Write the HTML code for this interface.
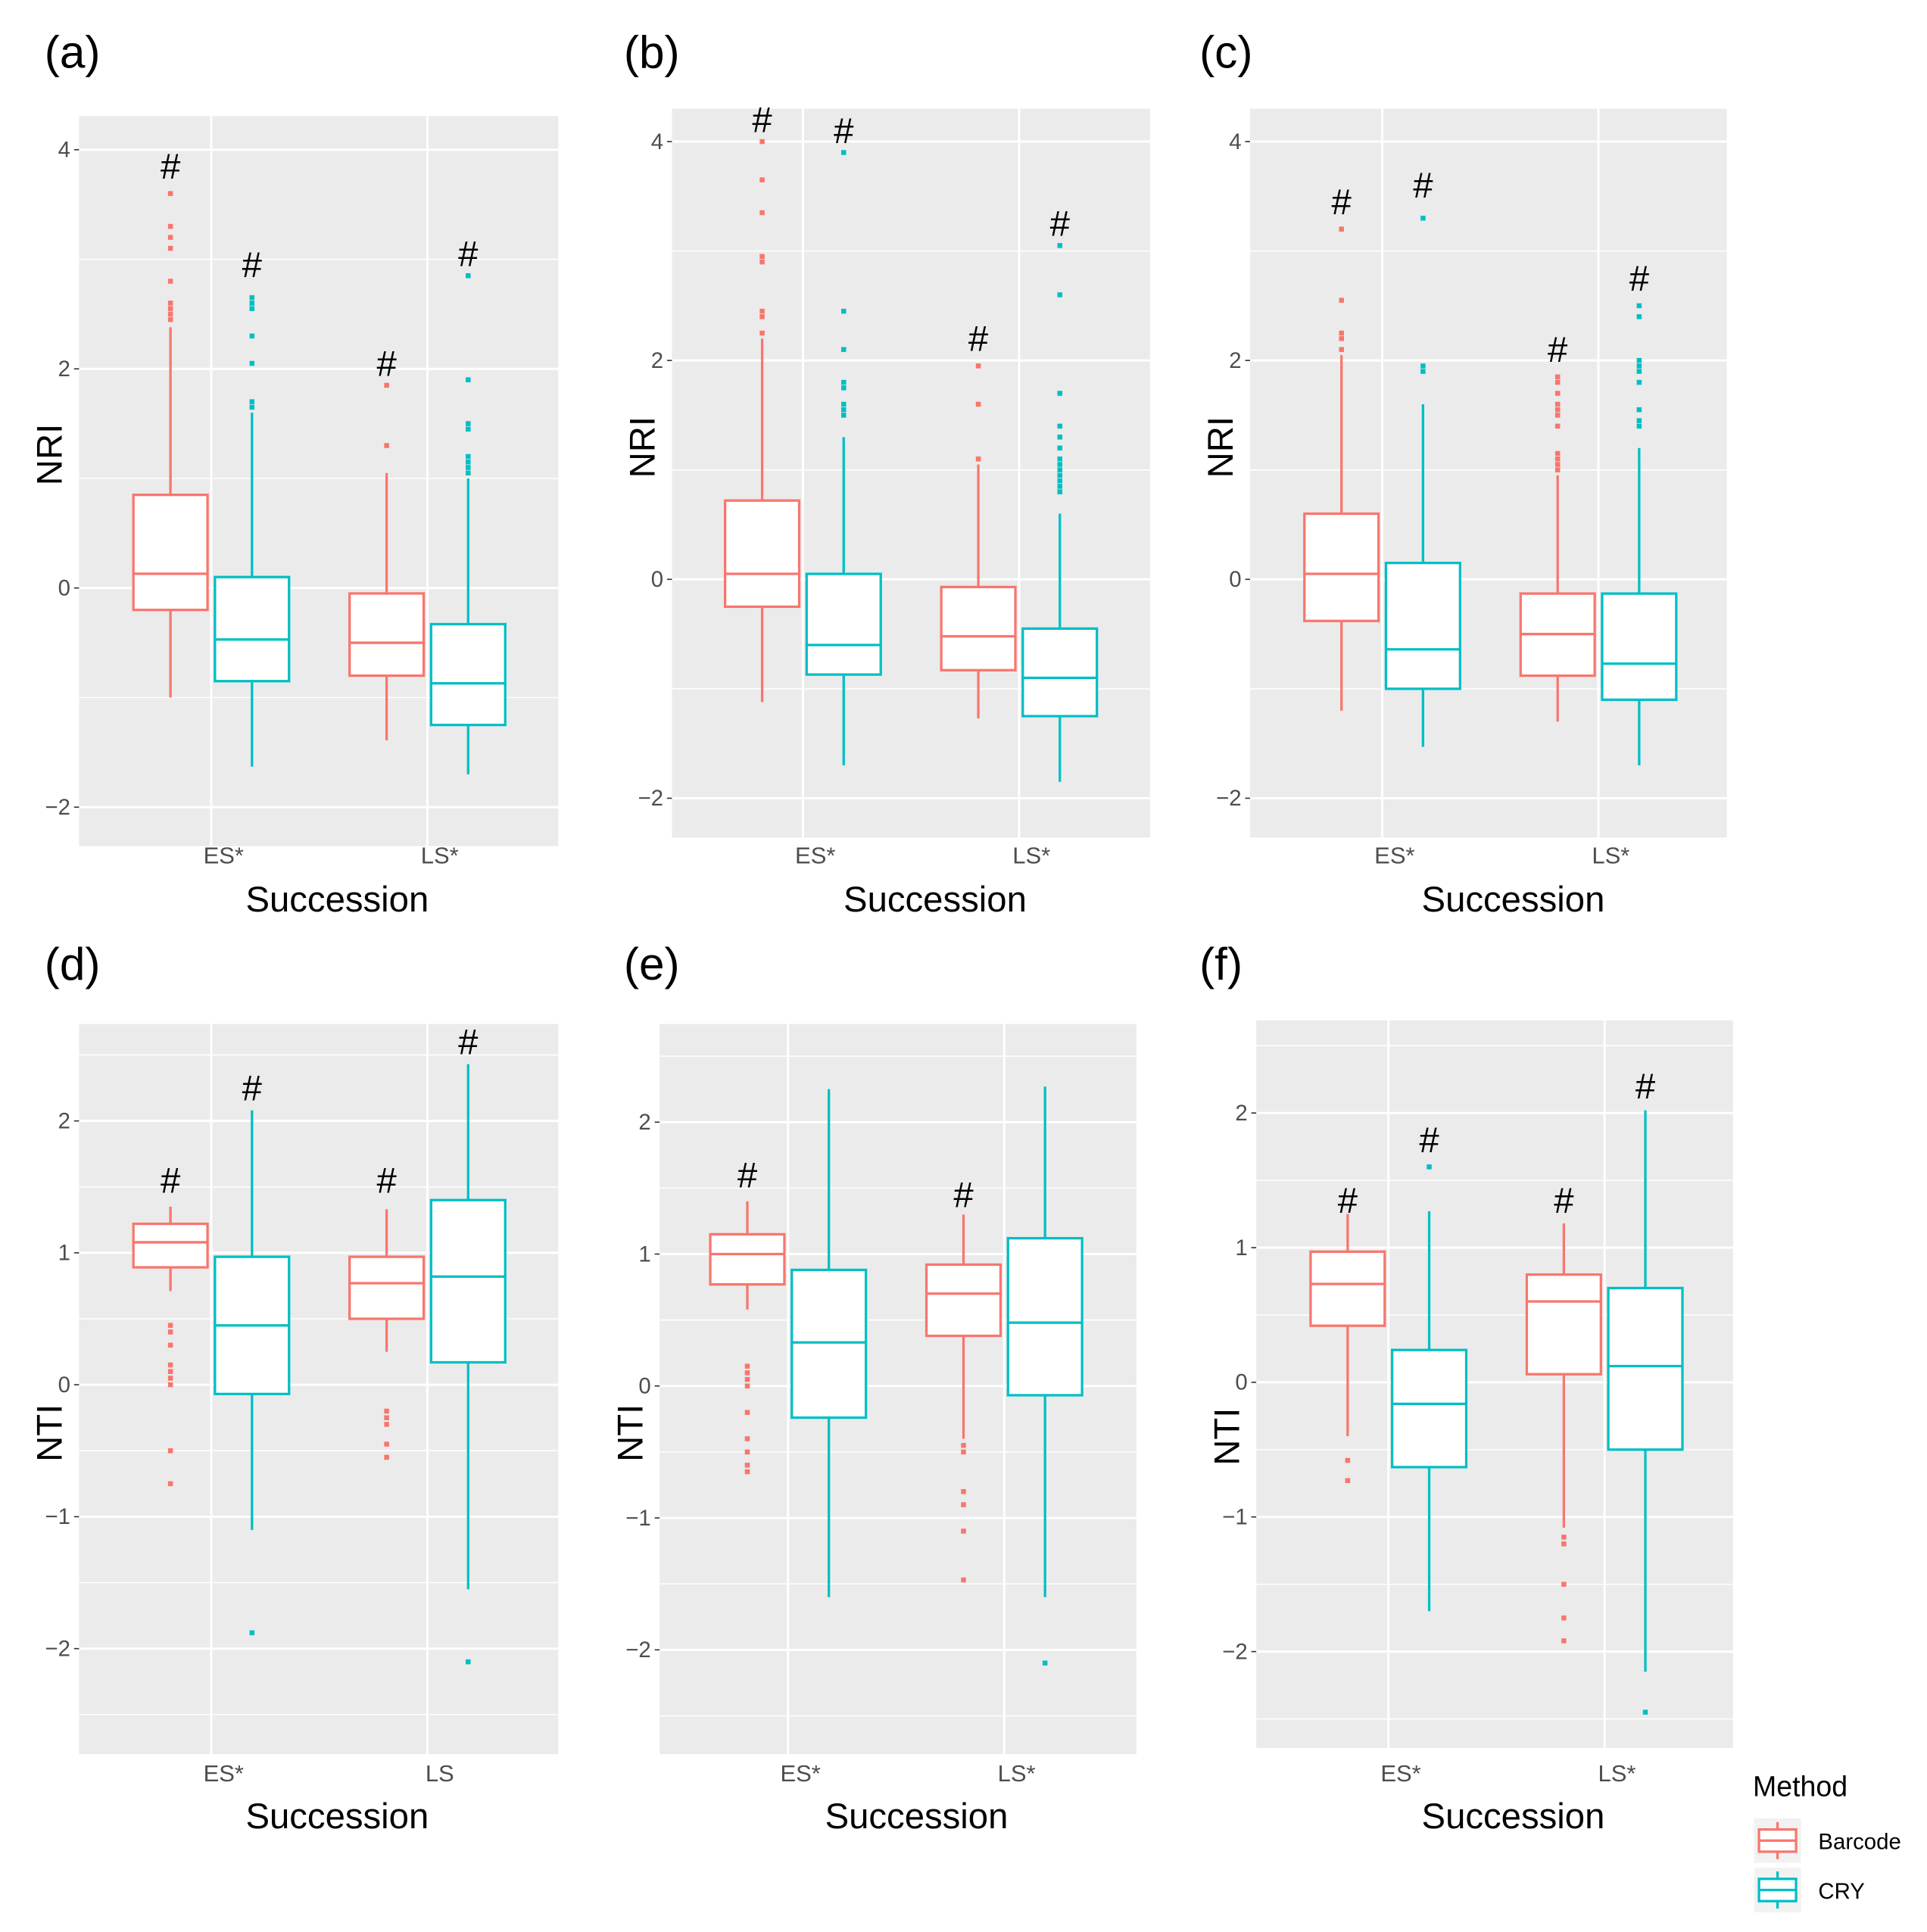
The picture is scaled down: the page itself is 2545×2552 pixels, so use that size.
<!DOCTYPE html>
<html><head><meta charset="utf-8"><style>
html,body{margin:0;padding:0;background:#fff;}
svg{display:block;}
text{font-family:"Liberation Sans",sans-serif;}
</style></head><body>
<svg id="chart" xmlns="http://www.w3.org/2000/svg" width="2545" height="2552" viewBox="0 0 1560 1564" preserveAspectRatio="none"></svg>
<script>
// ---- data ----
const categories = ["ES*","LS*"];
const methods = ["Barcode","CRY"];
const panelLetters = ["(a)","(b)","(c)","(d)","(e)","(f)"];
const panelYLabels = ["NRI","NRI","NRI","NTI","NTI","NTI"];
const panelXTickLabels = [["ES*","LS*"],["ES*","LS*"],["ES*","LS*"],["ES*","LS"],["ES*","LS*"],["ES*","LS*"]];
const yTicksNRI = [-2,0,2,4];
const yTicksNTI = [-2,-1,0,1,2];
// box stats: [low whisker, Q1, median, Q3, high whisker] for ES-Barcode, ES-CRY, LS-Barcode, LS-CRY
const statsA = [[-1.0,-0.2,0.13,0.85,2.38],[-1.63,-0.85,-0.47,0.1,1.6],[-1.39,-0.8,-0.5,-0.05,1.05],[-1.7,-1.25,-0.87,-0.33,1.0]];
const statsB = [[-1.12,-0.25,0.05,0.72,2.2],[-1.7,-0.87,-0.6,0.05,1.3],[-1.27,-0.83,-0.52,-0.07,1.05],[-1.85,-1.25,-0.9,-0.45,0.6]];
const statsC = [[-1.2,-0.38,0.05,0.6,2.05],[-1.53,-1.0,-0.64,0.15,1.6],[-1.3,-0.88,-0.5,-0.13,0.95],[-1.7,-1.1,-0.77,-0.13,1.2]];
const statsD = [[0.71,0.89,1.08,1.22,1.35],[-1.1,-0.07,0.45,0.97,2.08],[0.25,0.5,0.77,0.97,1.33],[-1.55,0.17,0.82,1.4,2.43]];
const statsE = [[0.58,0.77,1.0,1.15,1.4],[-1.6,-0.24,0.33,0.88,2.25],[-0.4,0.38,0.7,0.92,1.3],[-1.6,-0.07,0.48,1.12,2.27]];
const statsF = [[-0.4,0.42,0.73,0.97,1.25],[-1.7,-0.63,-0.16,0.24,1.27],[-1.08,0.06,0.6,0.8,1.18],[-2.15,-0.5,0.12,0.7,2.02]];
const outA = [[2.45,2.5,2.55,2.6,2.8,3.1,3.2,3.3,3.6],[1.65,1.7,2.05,2.3,2.55,2.6,2.65],[1.3,1.85],[1.05,1.1,1.15,1.2,1.45,1.5,1.9,2.85]];
const outB = [[2.25,2.4,2.45,2.9,2.95,3.35,3.65,4.0],[1.5,1.55,1.6,1.75,1.8,2.1,2.45,3.9],[1.1,1.6,1.95],[0.8,0.85,0.9,0.95,1.0,1.05,1.1,1.2,1.3,1.4,1.7,2.6,3.05]];
const outC = [[2.1,2.2,2.25,2.55,3.2],[1.9,1.95,3.3],[1.0,1.05,1.1,1.15,1.4,1.5,1.55,1.6,1.7,1.8,1.85],[1.4,1.45,1.55,1.8,1.9,1.95,2.0,2.4,2.5]];
const outD = [[0.45,0.4,0.3,0.15,0.1,0.05,0.0,-0.5,-0.75],[-1.88],[-0.2,-0.25,-0.3,-0.45,-0.55],[-2.1]];
const outE = [[0.15,0.1,0.05,0.0,-0.2,-0.4,-0.5,-0.6,-0.65],[],[-0.45,-0.5,-0.8,-0.9,-1.1,-1.47],[-2.1]];
const outF = [[-0.58,-0.73],[1.6],[-1.15,-1.2,-1.5,-1.75,-1.92],[-2.45]];
// "#" marker positions (data units), null = none
const hashA = [3.85,2.95,2.05,3.05];
const hashB = [4.2,4.1,2.2,3.25];
const hashC = [3.45,3.6,2.1,2.75];
const hashD = [1.55,2.25,1.55,2.6];
const hashE = [1.6,null,1.45,null];
const hashF = [1.35,1.8,1.35,2.2];

const allStats=[statsA,statsB,statsC,statsD,statsE,statsF];
const allOut=[outA,outB,outC,outD,outE,outF];
const allHash=[hashA,hashB,hashC,hashD,hashE,hashF];
const colors=["#F8766D","#00BFC4"];
// layout (display coordinates)
const layout=[
 {x0:64,x1:452,y0:94,y1:685,zero:476,ppu:88.7,cx:[171,346],lx:36,ly:55,yl:40,ylm:368,yt:yTicksNRI,minor:[-1,1,3],xt:693,xs:273,xsy:728},
 {x0:544,x1:931,y0:88,y1:678,zero:469,ppu:88.6,cx:[650,825],lx:505,ly:55,yl:520,ylm:362,yt:yTicksNRI,minor:[-1,1,3],xt:693,xs:757,xsy:728},
 {x0:1012,x1:1398,y0:88,y1:678,zero:469,ppu:88.6,cx:[1119,1294],lx:971,ly:55,yl:988,ylm:362,yt:yTicksNRI,minor:[-1,1,3],xt:693,xs:1225,xsy:728},
 {x0:64,x1:452,y0:829,y1:1420,zero:1121,ppu:106.8,cx:[171,346],lx:36,ly:793,yl:40,ylm:1160,yt:yTicksNTI,minor:[-2.5,-1.5,-0.5,0.5,1.5,2.5],xt:1436,xs:273,xsy:1470},
 {x0:534,x1:920,y0:829,y1:1420,zero:1122,ppu:106.8,cx:[638,813],lx:505,ly:793,yl:510,ylm:1160,yt:yTicksNTI,minor:[-2.5,-1.5,-0.5,0.5,1.5,2.5],xt:1436,xs:742,xsy:1470},
 {x0:1017,x1:1403,y0:826,y1:1415,zero:1119,ppu:109,cx:[1124,1299],lx:971,ly:793,yl:993,ylm:1163,yt:yTicksNTI,minor:[-2.5,-1.5,-0.5,0.5,1.5,2.5],xt:1436,xs:1225,xsy:1470}
];
const svg=document.getElementById('chart');
const NS="http://www.w3.org/2000/svg";
function mk(tag,attrs,parent,txt){const e=document.createElementNS(NS,tag);for(const k in attrs)e.setAttribute(k,attrs[k]);if(txt!=null)e.textContent=txt;parent.appendChild(e);return e;}
layout.forEach((L,p)=>{
  const g=mk('g',{},svg);
  
  
  const y=v=>L.zero-v*L.ppu;
  const bg=mk('rect',{x:L.x0,y:L.y0,width:L.x1-L.x0,height:L.y1-L.y0,fill:'#EBEBEB'},g);
  
  
  L.minor.forEach(v=>{const yy=y(v);if(yy>L.y0&&yy<L.y1){const l=mk('line',{x1:L.x0,x2:L.x1,y1:yy,y2:yy,stroke:'#fff','stroke-width':0.9},g);
    
    }});
  L.yt.forEach(v=>{const yy=y(v);
    const l=mk('line',{x1:L.x0,x2:L.x1,y1:yy,y2:yy,stroke:'#fff','stroke-width':1.8},g);
    
    
    mk('line',{x1:L.x0-4,x2:L.x0,y1:yy,y2:yy,stroke:'#333','stroke-width':1},g);
    const t=mk('text',{x:L.x0-7,y:yy+6,'text-anchor':'end','font-size':18,fill:'#4D4D4D'},g,v<0?'\u2212'+(-v):String(v));
    
    
  });
  L.cx.forEach((cx,ci)=>{
    const l=mk('line',{x1:cx,x2:cx,y1:L.y0,y2:L.y1,stroke:'#fff','stroke-width':1.8},g);
    
    
    const t=mk('text',{x:cx+10,y:L.xt+6,'text-anchor':'middle','font-size':19,fill:'#4D4D4D'},g,panelXTickLabels[p][ci]);
    
    
  });
  const st=allStats[p],out=allOut[p],hs=allHash[p];
  for(let k=0;k<4;k++){
    const ci=Math.floor(k/2),mi=k%2;
    const cx=L.cx[ci]+(mi?33:-33);
    const c=colors[mi];const s=st[k];
    const bx=mk('g',{},g);
    
    
    mk('line',{x1:cx,x2:cx,y1:y(s[0]),y2:y(s[1]),stroke:c,'stroke-width':2},bx);
    mk('line',{x1:cx,x2:cx,y1:y(s[3]),y2:y(s[4]),stroke:c,'stroke-width':2},bx);
    mk('rect',{x:cx-30,y:y(s[3]),width:60,height:y(s[1])-y(s[3]),fill:'#fff',stroke:c,'stroke-width':2},bx);
    mk('line',{x1:cx-30,x2:cx+30,y1:y(s[2]),y2:y(s[2]),stroke:c,'stroke-width':2},bx);
    out[k].forEach(v=>{const o=mk('rect',{x:cx-2,y:y(v)-2,width:4,height:4,fill:c},bx);
      
      });
    if(hs[k]!=null){const h=mk('text',{x:cx,y:y(hs[k])+10,'text-anchor':'middle','font-size':29,fill:'#000','font-family':'Liberation Serif, serif'},g,'#');
      
      }
  }
  const pl=mk('text',{x:L.lx,y:L.ly,'font-size':37,fill:'#000'},g,panelLetters[p]);
  
  
  const xs=mk('text',{x:L.xs,y:L.xsy+10,'text-anchor':'middle','font-size':29,fill:'#000'},g,'Succession');
  
  
  const ym=L.ylm;
  const yl=mk('text',{x:L.yl,y:ym,'text-anchor':'middle','font-size':29,fill:'#000',transform:`rotate(-90 ${L.yl} ${ym})`,dy:10},g,panelYLabels[p]);
  
  
});
// legend
const lg=mk('g',{},svg);


mk('text',{x:1419,y:1454,'font-size':23,fill:'#000'},lg,'Method');
methods.forEach((m,i)=>{
  const ky=1472+i*40;
  const e=mk('g',{},lg);
  
  
  mk('rect',{x:1420,y:ky,width:38,height:36,fill:'#F2F2F2'},e);
  mk('line',{x1:1439,x2:1439,y1:ky+3,y2:ky+33,stroke:colors[i],'stroke-width':2},e);
  mk('rect',{x:1424,y:ky+9,width:30,height:18,fill:'#fff',stroke:colors[i],'stroke-width':2},e);
  mk('line',{x1:1424,x2:1454,y1:ky+18,y2:ky+18,stroke:colors[i],'stroke-width':2},e);
  mk('text',{x:1472,y:ky+25,'font-size':18,fill:'#000'},e,m);
});
</script>
</body></html>
